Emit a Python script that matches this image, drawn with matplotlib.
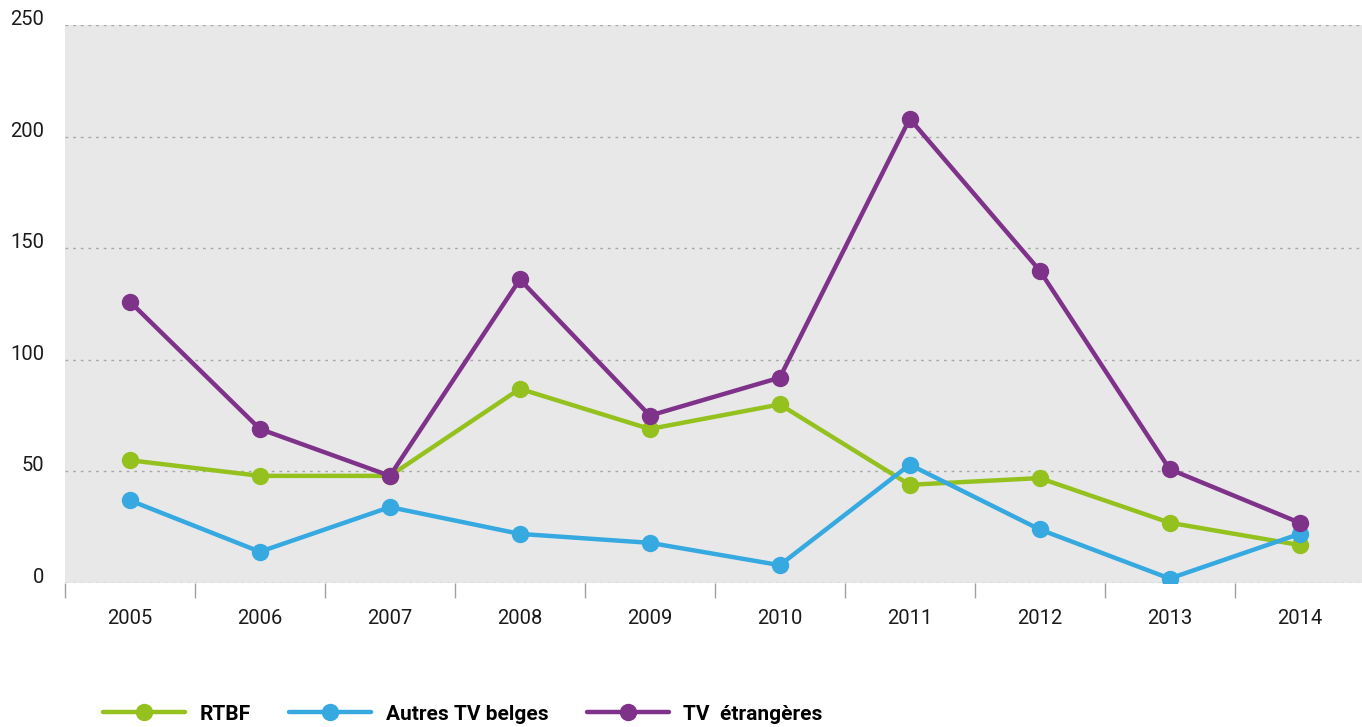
import numpy as np
import matplotlib.pyplot as plt
from matplotlib.ticker import MultipleLocator

# Données
annees = ['2005', '2006', '2007', '2008', '2009', '2010', '2011', '2012', '2013', '2014']
rtbf = [55, 48, 48, 87, 69, 80, 44, 47, 27, 17]
autres_tv = [37, 14, 34, 22, 18, 8, 53, 24, 2, 22]
tv_etrangeres = [126, 69, 48, 136, 75, 92, 208, 140, 51, 27]

series = [
    ('RTBF', rtbf, '#95c11f'),
    ('Autres TV belges', autres_tv, '#36a9e1'),
    ('TV  étrangères', tv_etrangeres, '#7f3289'),
]

plt.rcParams['font.family'] = ['Roboto', 'DejaVu Sans']

fig = plt.figure(figsize=(13.62, 7.27), dpi=100)
ax = fig.add_axes([65 / 1362, 144 / 727, 1297 / 1362, 558 / 727])
ax.set_facecolor('#e8e8e8')

x = np.arange(len(annees))
for nom, vals, col in series:
    ax.plot(x, vals, color=col, lw=3.2, marker='o', ms=11.5, label=nom,
            solid_capstyle='round', zorder=3)

ax.set_xlim(-0.5, 9.48)
ax.set_ylim(0, 250)
ax.yaxis.set_major_locator(MultipleLocator(50))
ax.grid(axis='y', color='#a8a8a8', lw=1, linestyle=(0, (2, 3.5)))
ax.set_axisbelow(True)
for s in ax.spines.values():
    s.set_visible(False)

ax.set_xticks(x)
ax.set_xticklabels(annees)
ax.set_xticks(np.arange(-0.5, 9.5, 1), minor=True)
ax.tick_params(axis='x', which='major', length=0, pad=19, labelsize=14.5, labelcolor='#1a1a1a')
ax.tick_params(axis='x', which='minor', length=10.5, width=1, color='#a0a0a0', direction='out')
ax.tick_params(axis='y', length=0, pad=15, labelsize=14.5, labelcolor='#1a1a1a')
for lbl in ax.get_yticklabels():
    lbl.set_verticalalignment('baseline')

leg = fig.legend(loc='center left', bbox_to_anchor=(103 / 1362, 1 - 714 / 727),
                 ncol=3, frameon=False, borderpad=0, borderaxespad=0,
                 handlelength=3.95, handletextpad=0.68, columnspacing=1.85,
                 prop={'weight': 'bold', 'size': 15})

fig.savefig('out.png', dpi=100)
